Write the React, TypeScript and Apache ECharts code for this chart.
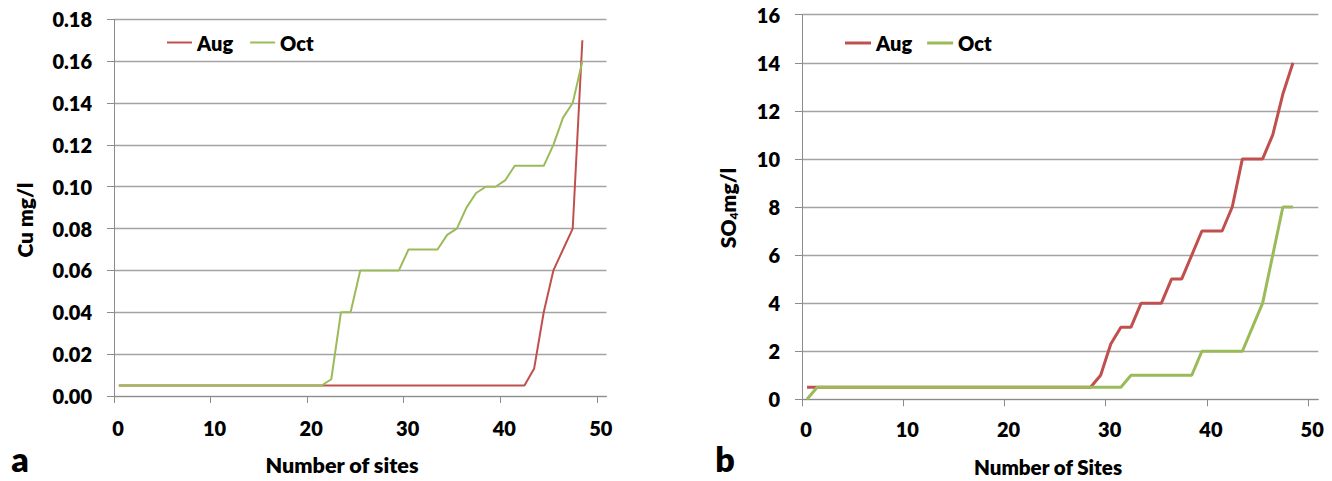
import React, { useEffect, useRef } from "react";
import * as echarts from "echarts";

// x positions of the sites (points sit in the middle of each site slot)
const sites = [
  0.5, 1.5, 2.5, 3.5, 4.5, 5.5, 6.5, 7.5, 8.5, 9.5,
  10.5, 11.5, 12.5, 13.5, 14.5, 15.5, 16.5, 17.5, 18.5, 19.5,
  20.5, 21.5, 22.5, 23.5, 24.5, 25.5, 26.5, 27.5, 28.5, 29.5,
  30.5, 31.5, 32.5, 33.5, 34.5, 35.5, 36.5, 37.5, 38.5, 39.5,
  40.5, 41.5, 42.5, 43.5, 44.5, 45.5, 46.5, 47.5, 48.5,
];

const cuAug = [
  0.005, 0.005, 0.005, 0.005, 0.005, 0.005, 0.005, 0.005, 0.005, 0.005,
  0.005, 0.005, 0.005, 0.005, 0.005, 0.005, 0.005, 0.005, 0.005, 0.005,
  0.005, 0.005, 0.005, 0.005, 0.005, 0.005, 0.005, 0.005, 0.005, 0.005,
  0.005, 0.005, 0.005, 0.005, 0.005, 0.005, 0.005, 0.005, 0.005, 0.005,
  0.005, 0.005, 0.005, 0.013, 0.04, 0.06, 0.07, 0.08, 0.17,
];

const cuOct = [
  0.005, 0.005, 0.005, 0.005, 0.005, 0.005, 0.005, 0.005, 0.005, 0.005,
  0.005, 0.005, 0.005, 0.005, 0.005, 0.005, 0.005, 0.005, 0.005, 0.005,
  0.005, 0.005, 0.008, 0.04, 0.04, 0.06, 0.06, 0.06, 0.06, 0.06,
  0.07, 0.07, 0.07, 0.07, 0.077, 0.08, 0.09, 0.097, 0.1, 0.1,
  0.103, 0.11, 0.11, 0.11, 0.11, 0.12, 0.133, 0.14, 0.16,
];

const so4Aug = [
  0.5, 0.5, 0.5, 0.5, 0.5, 0.5, 0.5, 0.5, 0.5, 0.5,
  0.5, 0.5, 0.5, 0.5, 0.5, 0.5, 0.5, 0.5, 0.5, 0.5,
  0.5, 0.5, 0.5, 0.5, 0.5, 0.5, 0.5, 0.5, 0.5, 1,
  2.3, 3, 3, 4, 4, 4, 5, 5, 6, 7,
  7, 7, 8, 10, 10, 10, 11, 12.7, 14,
];

const so4Oct = [
  0, 0.5, 0.5, 0.5, 0.5, 0.5, 0.5, 0.5, 0.5, 0.5,
  0.5, 0.5, 0.5, 0.5, 0.5, 0.5, 0.5, 0.5, 0.5, 0.5,
  0.5, 0.5, 0.5, 0.5, 0.5, 0.5, 0.5, 0.5, 0.5, 0.5,
  0.5, 0.5, 1, 1, 1, 1, 1, 1, 1, 2,
  2, 2, 2, 2, 3, 4, 6, 8, 8,
];

const xTicks = [0, 10, 20, 30, 40, 50];
const seriesNames = ["Aug", "Oct"];

const RED = "#C0504D";
const GREEN = "#9BBB59";
const FONT = "Lato";
const W = 800;

const pairs = (ys: number[]) => ys.map((y, i) => [sites[i], y]);

export default function App() {
  const ref = useRef<HTMLDivElement>(null);

  useEffect(() => {
    if (!ref.current) return;
    const chart = echarts.init(ref.current, null, { renderer: "svg" });

    const labelStyle = {
      fontFamily: FONT,
      fontWeight: W,
      fontSize: 20,
      color: "#000",
    };

    const xAxisCommon = (gridIndex: number, margin: number) => ({
      type: "value" as const,
      gridIndex,
      min: 0,
      max: 51,
      interval: 10,
      axisLine: { show: true, lineStyle: { color: "#8c8c8c", width: 1 } },
      axisTick: {
        show: true,
        length: 7,
        customValues: xTicks,
        lineStyle: { color: "#8c8c8c" },
      },
      axisLabel: {
        ...labelStyle,
        margin,
        customValues: xTicks,
        padding: [0, 0, 0, 8],
      },
      splitLine: { show: false },
    });

    const yAxisCommon = (
      gridIndex: number,
      max: number,
      interval: number,
      fmt: (v: number) => string
    ) => ({
      type: "value" as const,
      gridIndex,
      min: 0,
      max,
      interval,
      axisLine: { show: true, lineStyle: { color: "#8c8c8c", width: 1 } },
      axisTick: { show: true, length: 7, lineStyle: { color: "#8c8c8c" } },
      axisLabel: { ...labelStyle, margin: 22, formatter: fmt },
      splitLine: { show: true, lineStyle: { color: "#a3a3a3", width: 1.3 } },
    });

    const option = {
      animation: false,
      backgroundColor: "#ffffff",
      grid: [
        { left: 114, top: 19.3, width: 492.5, height: 376.7 },
        { left: 802, top: 14.7, width: 516.3, height: 384.6 },
      ],
      legend: [
        {
          left: 167,
          top: 32.5,
          padding: 0,
          icon: "rect",
          itemWidth: 25,
          itemHeight: 2,
          itemGap: 17,
          data: seriesNames,
          textStyle: { ...labelStyle, lineHeight: 20 },
          selectedMode: false,
        },
        {
          left: 845,
          top: 33,
          padding: 0,
          icon: "rect",
          itemWidth: 26,
          itemHeight: 3,
          itemGap: 15,
          data: seriesNames,
          textStyle: { ...labelStyle, lineHeight: 20 },
          selectedMode: false,
        },
      ],
      xAxis: [xAxisCommon(0, 22), xAxisCommon(1, 20)],
      yAxis: [
        yAxisCommon(0, 0.18, 0.02, (v: number) => v.toFixed(2)),
        yAxisCommon(1, 16, 2, (v: number) => String(v)),
      ],
      series: [
        {
          name: seriesNames[0],
          type: "line",
          xAxisIndex: 0,
          yAxisIndex: 0,
          data: pairs(cuAug),
          showSymbol: false,
          symbol: "none",
          color: RED,
          lineStyle: { color: RED, width: 2 },
        },
        {
          name: seriesNames[1],
          type: "line",
          xAxisIndex: 0,
          yAxisIndex: 0,
          data: pairs(cuOct),
          showSymbol: false,
          symbol: "none",
          color: GREEN,
          lineStyle: { color: GREEN, width: 2 },
        },
        {
          name: seriesNames[0],
          type: "line",
          xAxisIndex: 1,
          yAxisIndex: 1,
          data: pairs(so4Aug),
          showSymbol: false,
          symbol: "none",
          color: RED,
          lineStyle: { color: RED, width: 3 },
        },
        {
          name: seriesNames[1],
          type: "line",
          xAxisIndex: 1,
          yAxisIndex: 1,
          data: pairs(so4Oct),
          showSymbol: false,
          symbol: "none",
          color: GREEN,
          lineStyle: { color: GREEN, width: 3 },
        },
      ],
      graphic: [
        {
          type: "text",
          x: 24,
          y: 220,
          rotation: Math.PI / 2,
          style: {
            text: "Cu mg/l",
            align: "center",
            verticalAlign: "middle",
            font: `${W} 21px ${FONT}`,
            fill: "#000",
          },
        },
        {
          type: "text",
          x: 727,
          y: 208,
          rotation: Math.PI / 2,
          style: {
            text: "{a|SO}{s|4}{a|mg/l}",
            align: "center",
            verticalAlign: "middle",
            font: `${W} 21px ${FONT}`,
            fill: "#000",
            rich: {
              a: { fontFamily: FONT, fontWeight: W, fontSize: 21, lineHeight: 24, fill: "#000" },
              s: {
                fontFamily: FONT,
                fontWeight: W,
                fontSize: 12,
                lineHeight: 24,
                verticalAlign: "bottom",
                padding: [8, 0, 0, 0],
                fill: "#000",
              },
            },
          },
        },
        {
          type: "text",
          x: 342,
          y: 465,
          style: {
            text: "Number of sites",
            align: "center",
            verticalAlign: "middle",
            font: `${W} 21.5px ${FONT}`,
            fill: "#000",
          },
        },
        {
          type: "text",
          x: 1048,
          y: 467,
          style: {
            text: "Number of Sites",
            align: "center",
            verticalAlign: "middle",
            font: `${W} 20.5px ${FONT}`,
            fill: "#000",
          },
        },
        {
          type: "text",
          x: 20,
          y: 458,
          style: {
            text: "a",
            align: "center",
            verticalAlign: "middle",
            font: `${W} 34px ${FONT}`,
            fill: "#000",
          },
        },
        {
          type: "text",
          x: 725,
          y: 458,
          style: {
            text: "b",
            align: "center",
            verticalAlign: "middle",
            font: `${W} 34px ${FONT}`,
            fill: "#000",
          },
        },
      ],
    };

    chart.setOption(option as any);
    return () => chart.dispose();
  }, []);

  return (
    <div
      ref={ref}
      style={{ position: "absolute", left: 0, top: 0, width: 1332, height: 481 }}
    />
  );
}
